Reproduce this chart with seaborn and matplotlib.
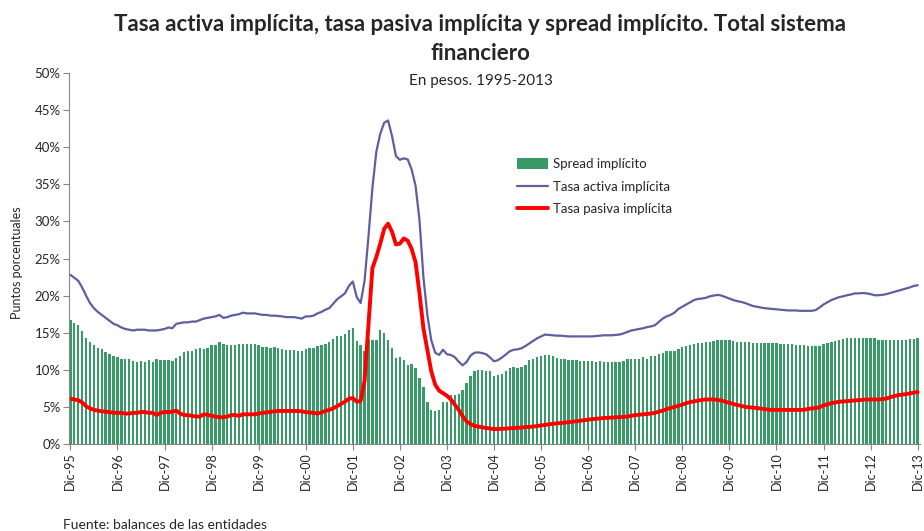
import numpy as np
import pandas as pd
import matplotlib
matplotlib.use("Agg")
import matplotlib.pyplot as plt
from matplotlib.patches import Patch
from matplotlib.lines import Line2D
import seaborn as sns

# --- Configuration ---
sns.set_style("white")
plt.rcParams['font.family'] = ['Lato', 'DejaVu Sans']

GREEN = '#389b67'
BLUE = '#5e5f9e'
RED = '#ff0000'

# --- Data (monthly, Dic-95 .. Dic-13), values in % ---
spread = [16.7,
          16.3, 16.0, 15.2, 14.3, 13.7, 13.3, 13.0, 12.8, 12.4, 12.1, 11.9, 11.7,   # 1996
          11.5, 11.4, 11.4, 11.2, 11.0, 11.2, 11.0, 11.3, 11.0, 11.4, 11.3, 11.3,   # 1997
          11.3, 11.2, 11.6, 11.9, 12.4, 12.5, 12.5, 12.8, 12.9, 12.8, 12.9, 13.3,   # 1998
          13.4, 13.7, 13.5, 13.3, 13.3, 13.4, 13.5, 13.5, 13.5, 13.5, 13.5, 13.3,   # 1999
          13.1, 13.1, 13.0, 13.1, 12.9, 12.8, 12.7, 12.7, 12.7, 12.5, 12.6, 12.8,   # 2000
          12.9, 12.9, 13.2, 13.3, 13.5, 13.7, 14.2, 14.5, 14.6, 14.8, 15.4, 15.6,   # 2001
          13.9, 13.3, 12.6, 14.1, 14.0, 14.0, 15.3, 15.0, 14.0, 12.9, 11.6, 11.7,   # 2002
          11.3, 10.7, 10.8, 10.3, 8.9, 7.7, 5.6, 4.6, 4.4, 4.6, 5.6, 5.6,           # 2003
          6.6, 6.6, 6.8, 7.3, 8.2, 9.1, 9.85, 10.0, 10.0, 9.9, 9.8, 9.2,            # 2004
          9.25, 9.4, 9.9, 10.2, 10.4, 10.3, 10.4, 10.7, 11.3, 11.5, 11.7, 11.9,     # 2005
          12.0, 11.95, 11.8, 11.65, 11.5, 11.5, 11.3, 11.3, 11.3, 11.2, 11.2, 11.2, # 2006
          11.2, 11.05, 11.15, 11.05, 11.05, 11.05, 11.05, 11.05, 11.2, 11.4, 11.4, 11.5,  # 2007
          11.5, 11.7, 11.5, 11.8, 11.9, 12.1, 12.3, 12.5, 12.5, 12.5, 12.8, 13.1,   # 2008
          13.2, 13.3, 13.5, 13.6, 13.6, 13.7, 13.75, 13.9, 14.0, 14.0, 14.0, 14.0,  # 2009
          13.9, 13.75, 13.75, 13.75, 13.75, 13.6, 13.6, 13.6, 13.6, 13.6, 13.6, 13.6,  # 2010
          13.5, 13.5, 13.5, 13.5, 13.3, 13.3, 13.3, 13.2, 13.2, 13.2, 13.2, 13.5,   # 2011
          13.6, 13.75, 13.9, 14.0, 14.1, 14.25, 14.25, 14.25, 14.25, 14.25, 14.25, 14.25,  # 2012
          14.25, 14.0, 14.0, 14.0, 14.0, 14.0, 14.0, 14.0, 14.0, 14.1, 14.1, 14.25]  # 2013

tasa_activa = [22.8,
               22.4, 22.0, 21.1, 20.0, 19.0, 18.3, 17.8, 17.4, 17.0, 16.6, 16.2, 16.0,
               15.7, 15.5, 15.4, 15.3, 15.4, 15.4, 15.4, 15.3, 15.3, 15.3, 15.4, 15.5,
               15.7, 15.6, 16.2, 16.3, 16.4, 16.4, 16.5, 16.5, 16.7, 16.9, 17.0, 17.1,
               17.2, 17.4, 17.0, 17.1, 17.3, 17.4, 17.5, 17.7, 17.6, 17.6, 17.6, 17.5,
               17.4, 17.4, 17.3, 17.3, 17.25, 17.2, 17.1, 17.1, 17.1, 17.0, 16.9, 17.2,
               17.2, 17.3, 17.6, 17.8, 18.1, 18.3, 18.9, 19.5, 19.9, 20.3, 21.3, 21.9,
               19.8, 19.0, 22.0, 28.0, 34.5, 39.4, 41.8, 43.3, 43.6, 41.5, 38.8, 38.3,
               38.5, 38.35, 37.0, 34.8, 30.2, 22.5, 17.4, 14.0, 12.3, 12.0, 12.7, 12.1,
               12.0, 11.7, 11.1, 10.6, 11.05, 11.9, 12.3, 12.35, 12.25, 12.1, 11.65, 11.15,
               11.3, 11.65, 12.05, 12.5, 12.7, 12.75, 12.9, 13.2, 13.55, 13.9, 14.25, 14.5,
               14.75, 14.7, 14.65, 14.6, 14.6, 14.55, 14.5, 14.5, 14.5, 14.5, 14.5, 14.5,
               14.5, 14.55, 14.6, 14.65, 14.65, 14.65, 14.7, 14.75, 14.9, 15.1, 15.3, 15.4,
               15.5, 15.6, 15.75, 15.85, 16.0, 16.45, 16.9, 17.2, 17.4, 17.7, 18.2, 18.5,
               18.8, 19.1, 19.4, 19.55, 19.6, 19.7, 19.9, 20.0, 20.1, 20.0, 19.8, 19.6,
               19.4, 19.25, 19.15, 19.0, 18.8, 18.6, 18.5, 18.4, 18.3, 18.25, 18.2, 18.15,
               18.1, 18.05, 18.0, 18.0, 18.0, 17.95, 17.95, 17.95, 17.95, 18.05, 18.4, 18.8,
               19.1, 19.4, 19.6, 19.8, 19.9, 20.05, 20.15, 20.3, 20.3, 20.35, 20.3, 20.2,
               20.05, 20.05, 20.1, 20.2, 20.35, 20.5, 20.65, 20.8, 20.95, 21.1, 21.3, 21.4]

tasa_pasiva = [6.1,
               6.0, 5.9, 5.6, 5.1, 4.8, 4.6, 4.5, 4.4, 4.35, 4.3, 4.2, 4.2,
               4.2, 4.1, 4.1, 4.2, 4.2, 4.3, 4.3, 4.2, 4.2, 3.9, 4.2, 4.3,
               4.3, 4.35, 4.5, 4.1, 3.9, 3.9, 3.8, 3.7, 3.7, 4.0, 3.95, 3.8,
               3.7, 3.6, 3.6, 3.7, 3.9, 3.9, 3.8, 4.0, 4.0, 4.0, 4.0, 4.1,
               4.2, 4.25, 4.35, 4.4, 4.45, 4.45, 4.45, 4.45, 4.45, 4.45, 4.4, 4.3,
               4.25, 4.2, 4.1, 4.25, 4.45, 4.6, 4.8, 5.1, 5.4, 5.7, 6.1, 6.2,
               5.7, 5.8, 8.5, 16.0, 23.7, 25.2, 27.0, 29.0, 29.7, 28.6, 26.9, 27.0,
               27.7, 27.4, 26.3, 24.5, 20.3, 15.6, 12.7, 9.8, 8.0, 7.2, 6.85, 6.5,
               6.0, 5.3, 4.6, 3.75, 3.05, 2.7, 2.45, 2.35, 2.25, 2.15, 2.1, 2.0,
               2.02, 2.05, 2.08, 2.12, 2.15, 2.18, 2.22, 2.27, 2.3, 2.35, 2.42, 2.5,
               2.58, 2.65, 2.72, 2.78, 2.82, 2.88, 2.95, 3.0, 3.07, 3.14, 3.2, 3.28,
               3.35, 3.4, 3.45, 3.5, 3.53, 3.56, 3.6, 3.62, 3.65, 3.7, 3.8, 3.9,
               3.95, 4.0, 4.05, 4.1, 4.2, 4.35, 4.5, 4.7, 4.85, 5.0, 5.15, 5.3,
               5.5, 5.65, 5.75, 5.85, 5.95, 6.0, 6.0, 6.0, 5.95, 5.85, 5.7, 5.55,
               5.4, 5.25, 5.15, 5.0, 4.95, 4.9, 4.85, 4.78, 4.7, 4.63, 4.6, 4.6,
               4.6, 4.6, 4.6, 4.6, 4.6, 4.6, 4.6, 4.72, 4.8, 4.85, 4.95, 5.2,
               5.35, 5.5, 5.6, 5.7, 5.73, 5.77, 5.83, 5.87, 5.9, 5.95, 6.0, 6.0,
               6.0, 6.0, 6.05, 6.12, 6.3, 6.45, 6.58, 6.65, 6.72, 6.82, 6.92, 7.0]

tick_labels = ['Dic-95', 'Dic-96', 'Dic-97', 'Dic-98', 'Dic-99', 'Dic-00', 'Dic-01',
               'Dic-02', 'Dic-03', 'Dic-04', 'Dic-05', 'Dic-06', 'Dic-07', 'Dic-08',
               'Dic-09', 'Dic-10', 'Dic-11', 'Dic-12', 'Dic-13']

df = pd.DataFrame({'mes': np.arange(len(spread)),
                   'spread': spread,
                   'activa': tasa_activa,
                   'pasiva': tasa_pasiva})

# --- Figure ---
fig = plt.figure(figsize=(9.24, 5.31), dpi=100)
ax = fig.add_axes([69 / 924, 87 / 531, 851 / 924, 371 / 531])

sns.barplot(data=df, x='mes', y='spread', color=GREEN, width=0.6,
            saturation=1, errorbar=None, linewidth=0, edgecolor='none', ax=ax)
sns.lineplot(data=df, x='mes', y='activa', color=BLUE, linewidth=1.6, ax=ax)
sns.lineplot(data=df, x='mes', y='pasiva', color=RED, linewidth=2.8, ax=ax)

ax.set_xlim(-0.35, 216.6)
ax.set_ylim(0, 50)
ax.set_xticks(np.arange(0, len(spread), 12))
ax.set_xticklabels(tick_labels, rotation=90, fontsize=9)
ax.set_yticks(np.arange(0, 51, 5))
ax.set_yticklabels([f'{v}%' for v in range(0, 51, 5)], fontsize=9.5)
ax.set_xlabel('')
ax.set_ylabel('')
ax.tick_params(axis='both', direction='out', length=4, width=0.8,
               color='#868686', pad=2, bottom=True, left=True)

sns.despine(ax=ax)
for side in ['left', 'bottom']:
    ax.spines[side].set_color('#868686')
    ax.spines[side].set_linewidth(0.8)

# legend
handles = [Patch(facecolor=GREEN, edgecolor='none'),
           Line2D([0], [0], color=BLUE, linewidth=1.6),
           Line2D([0], [0], color=RED, linewidth=2.8)]
labels = ['Spread implícito', 'Tasa activa implícita', 'Tasa pasiva implícita']
ax.legend(handles, labels, loc='upper left', bbox_to_anchor=(0.52, 0.785),
          frameon=False, fontsize=9.5, handlelength=2.4, handleheight=0.8,
          labelspacing=0.8, handletextpad=0.35, borderaxespad=0)

# texts
fig.text(0.52, 0.953, 'Tasa activa implícita, tasa pasiva implícita y spread implícito. Total sistema',
         ha='center', va='center', fontsize=16, fontweight='bold')
fig.text(0.52, 0.900, 'financiero', ha='center', va='center', fontsize=16, fontweight='bold')
fig.text(0.52, 0.847, 'En pesos. 1995-2013', ha='center', va='center', fontsize=11)
fig.text(17 / 924, 0.505, 'Puntos porcentuales', rotation=90, ha='center', va='center',
         fontsize=9)
fig.text(63 / 924, 6 / 531, 'Fuente: balances de las entidades', ha='left', va='center',
         fontsize=10)

fig.savefig('out.png', dpi=100)
